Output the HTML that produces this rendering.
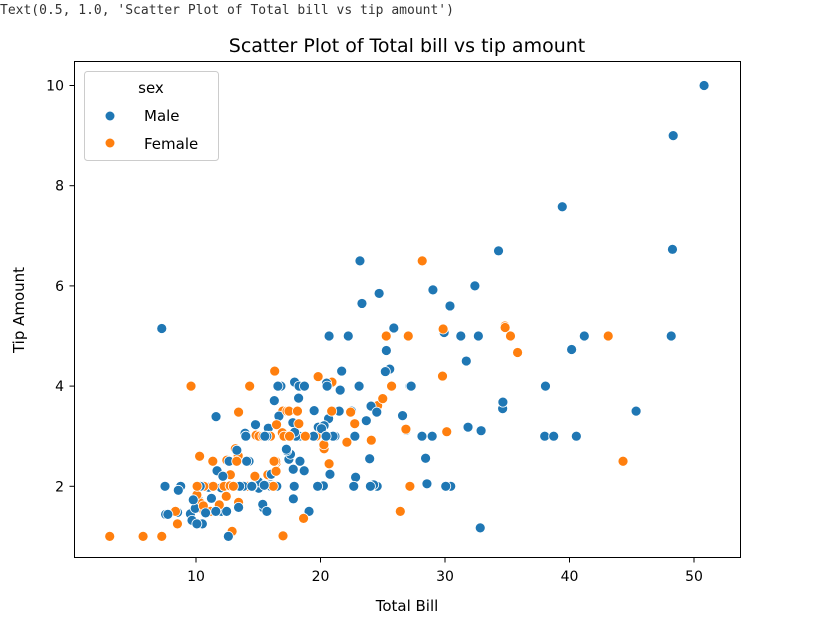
<!DOCTYPE html>
<html><head><meta charset="utf-8"><style>
body{margin:0;background:#fff;width:822px;height:621px;overflow:hidden}
text{font-family:"DejaVu Sans","Liberation Sans",sans-serif}
</style></head><body>
<svg id="chart" width="822" height="621" xmlns="http://www.w3.org/2000/svg">
<text x="0" y="14" font-size="13" fill="#333" style="font-family:'DejaVu Sans Mono','Liberation Mono',monospace">Text(0.5, 1.0, 'Scatter Plot of Total bill vs tip amount')</text>
<text x="407" y="52" font-size="19" text-anchor="middle" fill="#000">Scatter Plot of Total bill vs tip amount</text>
<g id="marks"></g>
<g id="axes"></g>
<rect x="74.5" y="61.5" width="666" height="496" fill="none" stroke="#000" stroke-width="1"/>
<text x="407" y="611" font-size="15" text-anchor="middle">Total Bill</text>
<text transform="translate(24,310) rotate(-90)" font-size="15" text-anchor="middle">Tip Amount</text>
<g>
<rect x="84.5" y="71.5" width="134" height="89" rx="3" fill="#fff" fill-opacity="0.8" stroke="#ccc"/>
<text x="151" y="93" font-size="15" text-anchor="middle">sex</text>
<circle cx="110" cy="116" r="4.5" fill="#1f77b4"/>
<text x="144" y="121" font-size="15">Male</text>
<circle cx="110" cy="143" r="4.5" fill="#ff7f0e"/>
<text x="144" y="149" font-size="15">Female</text>
</g>
</svg>
<script>
const totalBill=[16.99,10.34,21.01,23.68,24.59,25.29,8.77,26.88,15.04,14.78,10.27,35.26,15.42,18.43,14.83,21.58,10.33,16.29,16.97,20.65,17.92,20.29,15.77,39.42,19.82,17.81,13.37,12.69,21.7,19.65,9.55,18.35,15.06,20.69,17.78,24.06,16.31,16.93,18.69,31.27,16.04,17.46,13.94,9.68,30.4,18.29,22.23,32.4,28.55,18.04,12.54,10.29,34.81,9.94,25.56,19.49,38.01,26.41,11.24,48.27,20.29,13.81,11.02,18.29,17.59,20.08,16.45,3.07,20.23,15.01,12.02,17.07,26.86,25.28,14.73,10.51,17.92,27.2,22.76,17.29,19.44,16.66,10.07,32.68,15.98,34.83,13.03,18.28,24.71,21.16,28.97,22.49,5.75,16.32,22.75,40.17,27.28,12.03,21.01,12.46,11.35,15.38,44.3,22.42,20.92,15.36,20.49,25.21,18.24,14.31,14.0,7.25,38.07,23.95,25.71,17.31,29.93,10.65,12.43,24.08,11.69,13.42,14.26,15.95,12.48,29.8,8.52,14.52,11.38,22.82,19.08,20.27,11.17,12.26,18.26,8.51,10.33,14.15,16.0,13.16,17.47,34.3,41.19,27.05,16.43,8.35,18.64,11.87,9.78,7.51,14.07,13.13,17.26,24.55,19.77,29.85,48.17,25.0,13.39,16.49,21.5,12.66,16.21,13.81,17.51,24.52,20.76,31.71,10.59,10.63,50.81,15.81,7.25,31.85,16.82,32.9,17.89,14.48,9.6,34.63,34.65,23.33,45.35,23.17,40.55,20.69,20.9,30.46,18.15,23.1,15.69,19.81,28.44,15.48,16.58,7.56,10.34,43.11,13.0,13.51,18.71,12.74,13.0,16.4,20.53,16.47,26.59,38.73,24.27,12.76,30.06,25.89,48.33,13.27,28.17,12.9,28.15,11.59,7.74,30.14,12.16,13.42,8.58,15.98,13.42,16.27,10.09,20.45,13.28,22.12,24.01,15.69,11.61,10.77,15.53,10.07,12.6,32.83,35.83,29.03,27.18,22.67,17.82,18.78];
const tipAmount=[1.01,1.66,3.5,3.31,3.61,4.71,2.0,3.12,1.96,3.23,1.71,5.0,1.57,3.0,3.02,3.92,1.67,3.71,3.5,3.35,4.08,2.75,2.23,7.58,3.18,2.34,2.0,2.0,4.3,3.0,1.45,2.5,3.0,2.45,3.27,3.6,2.0,3.07,2.31,5.0,2.24,2.54,3.06,1.32,5.6,3.0,5.0,6.0,2.05,3.0,2.5,2.6,5.2,1.56,4.34,3.51,3.0,1.5,1.76,6.73,3.21,2.0,1.98,3.76,2.64,3.15,2.47,1.0,2.01,2.09,1.97,3.0,3.14,5.0,2.2,1.25,3.08,4.0,3.0,2.71,3.0,3.4,1.83,5.0,2.03,5.17,2.0,4.0,5.85,3.0,3.0,3.5,1.0,4.3,3.25,4.73,4.0,1.5,3.0,1.5,2.5,3.0,2.5,3.48,4.08,1.64,4.06,4.29,3.76,4.0,3.0,1.0,4.0,2.55,4.0,3.5,5.07,1.5,1.8,2.92,2.31,1.68,2.5,2.0,2.52,4.2,1.48,2.0,2.0,2.18,1.5,2.83,1.5,2.0,3.25,1.25,2.0,2.0,2.0,2.75,3.5,6.7,5.0,5.0,2.3,1.5,1.36,1.63,1.73,2.0,2.5,2.0,2.74,2.0,2.0,5.14,5.0,3.75,2.61,2.0,3.5,2.5,2.0,2.0,3.0,3.48,2.24,4.5,1.61,2.0,10.0,3.16,5.15,3.18,4.0,3.11,2.0,2.0,4.0,3.55,3.68,5.65,3.5,6.5,3.0,5.0,3.5,2.0,3.5,4.0,1.5,4.19,2.56,2.02,4.0,1.44,2.0,5.0,2.0,2.0,4.0,2.01,2.0,2.5,4.0,3.23,3.41,3.0,2.03,2.23,2.0,5.16,9.0,2.5,6.5,1.1,3.0,1.5,1.44,3.09,2.2,3.48,1.92,3.0,1.58,2.5,2.0,3.0,2.72,2.88,2.0,3.0,3.39,1.47,3.0,1.25,1.0,1.17,4.67,5.92,2.0,2.0,1.75,3.0];
const femaleRows=[1,5,12,15,17,19,22,23,30,33,34,38,52,53,58,67,68,72,73,74,75,83,86,93,94,95,101,102,103,104,105,110,112,115,116,118,119,120,122,125,126,128,129,132,133,134,135,136,137,138,140,141,144,145,146,147,148,156,158,159,163,165,169,170,179,187,189,192,198,199,202,203,204,206,210,214,215,216,220,222,224,226,227,230,239,241,244];
const xTicks=[10,20,30,40,50];
const yTicks=[2,4,6,8,10];
const colors={M:"#1f77b4",F:"#ff7f0e"};
const NS="http://www.w3.org/2000/svg";
function xs(v){return 71.5+12.45*v;}
function ys(v){return 586.5-50.1*v;}
const fset=new Set(femaleRows);
const marks=document.getElementById('marks');
for(let i=0;i<totalBill.length;i++){
  const c=document.createElementNS(NS,'circle');
  
  
  c.setAttribute('cx',xs(totalBill[i]));c.setAttribute('cy',ys(tipAmount[i]));
  c.setAttribute('r',5);c.setAttribute('fill',fset.has(i+1)?colors.F:colors.M);
  c.setAttribute('stroke','#fff');c.setAttribute('stroke-width',0.8);
  marks.appendChild(c);
}
const axes=document.getElementById('axes');
xTicks.forEach(t=>{
  const l=document.createElementNS(NS,'line');
  
  
  l.setAttribute('x1',xs(t));l.setAttribute('x2',xs(t));l.setAttribute('y1',557.5);l.setAttribute('y2',562.5);l.setAttribute('stroke','#000');
  axes.appendChild(l);
  const tx=document.createElementNS(NS,'text');
  
  
  tx.setAttribute('x',xs(t));tx.setAttribute('y',581);tx.setAttribute('font-size','14');tx.setAttribute('text-anchor','middle');
  tx.textContent=t;axes.appendChild(tx);
});
yTicks.forEach(t=>{
  const l=document.createElementNS(NS,'line');
  
  
  l.setAttribute('x1',69.5);l.setAttribute('x2',74.5);l.setAttribute('y1',ys(t));l.setAttribute('y2',ys(t));l.setAttribute('stroke','#000');
  axes.appendChild(l);
  const tx=document.createElementNS(NS,'text');
  
  
  tx.setAttribute('x',64);tx.setAttribute('y',ys(t)+5);tx.setAttribute('font-size','14');tx.setAttribute('text-anchor','end');
  tx.textContent=t;axes.appendChild(tx);
});
</script>
</body></html>
